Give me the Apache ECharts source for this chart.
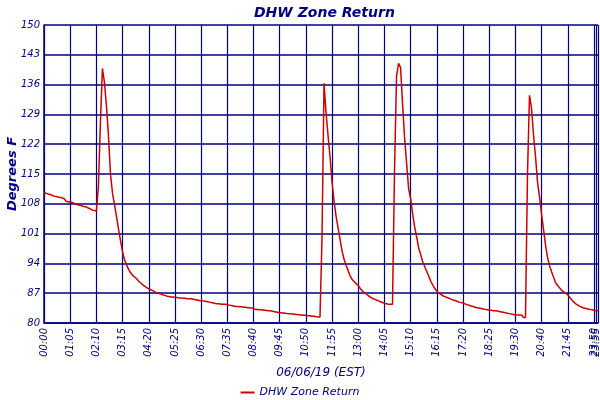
<!DOCTYPE html>
<html>
<head>
<meta charset="utf-8">
<title>DHW Zone Return</title>
<script src="https://cdn.jsdelivr.net/npm/echarts@6/dist/echarts.min.js"></script>
<style>
html,body{margin:0;padding:0;background:#fff;}
#chart1{width:600px;height:400px;}
</style>
</head>
<body>
<div id="chart1"></div>
<script>
// sample times (categories), the logger skips a few slots
var timeSegments = [
    ['00:00', '19:55'],
    ['20:05', '22:45'],
    ['23:50', '23:55']
];
var lastTime = '23:59';

// tick labels shown under the axis
var tickLabels = ['00:00','01:05','02:10','03:15','04:20','05:25','06:30','07:35','08:40','09:45','10:50',
    '11:55','13:00','14:05','15:10','16:15','17:20','18:25','19:30','20:40','21:45','23:50','23:55','23:59'];

// Degrees F
var temps = [
    110.6,110.5,110.3,110.2,110.0,109.8,109.7,109.6,109.5,109.4,109.2,108.6,108.5,
    108.4,108.3,108.1,107.9,107.7,107.6,107.5,107.3,107.3,107.0,106.8,106.5,106.4,
    106.3,112,127,139.8,136.5,131,124,115,110.5,107.8,105,102,99.3,
    96.7,94.8,93.6,92.6,91.8,91.2,90.8,90.4,89.8,89.4,89.0,88.6,88.3,
    88.0,87.8,87.6,87.3,87.1,87.0,86.8,86.6,86.5,86.3,86.2,86.1,86.1,
    86.0,86.0,85.9,85.9,85.8,85.8,85.7,85.7,85.7,85.6,85.5,85.4,85.3,
    85.2,85.2,85.1,85.0,84.9,84.8,84.7,84.6,84.5,84.5,84.4,84.4,84.4,
    84.3,84.2,84.1,84.0,83.9,83.9,83.8,83.8,83.7,83.7,83.6,83.6,83.5,
    83.4,83.2,83.2,83.1,83.1,83.0,83.0,82.9,82.9,82.8,82.7,82.6,82.5,
    82.4,82.4,82.3,82.3,82.2,82.2,82.1,82.1,82.0,82.0,81.9,81.9,81.8,
    81.8,81.7,81.7,81.6,81.6,81.5,81.4,81.4,100,136.3,129.5,124,119,
    113,108.6,105,102.3,99.5,96.8,94.9,93.5,92.3,91,90.2,89.7,89.2,
    88.8,88.1,87.5,87.1,86.8,86.4,86.1,85.8,85.6,85.4,85.2,85.0,84.8,
    84.6,84.5,84.4,84.4,84.4,116,138,141,140,131.3,123.5,117.5,111.5,
    109.2,105.6,102.5,100.2,97.6,96,94.4,93.2,92.1,91,89.8,88.9,88.1,
    87.5,87.0,86.7,86.4,86.2,86.0,85.8,85.6,85.4,85.3,85.1,84.9,84.8,
    84.7,84.5,84.3,84.2,84.0,83.9,83.7,83.6,83.5,83.4,83.3,83.2,83.1,
    83.0,83.0,82.9,82.9,82.8,82.7,82.6,82.5,82.4,82.3,82.2,82.1,82.0,
    81.9,81.9,81.9,81.9,81.3,81.3,115,133.5,130.5,124.1,119,113,109.5,
    105.5,101.8,98.2,95.3,93.4,92.0,90.7,89.4,88.8,88.2,87.7,87.3,87.0,
    86.6,86.0,85.4,84.9,84.5,84.2,83.9,83.7,83.5,83.4,83.3,83.2,83.1,
    83.0,82.9,82.8
];

function toMin(s) {
    var p = s.split(':');
    return parseInt(p[0]) * 60 + parseInt(p[1]);
}
function fnW(n) {
    return n >= 10 ? '' + n : '0' + n;
}
// build the category list, 5 minute steps inside each segment
var times = [];
for (var s = 0; s < timeSegments.length; s++) {
    for (var m = toMin(timeSegments[s][0]); m <= toMin(timeSegments[s][1]); m += 5) {
        times.push(fnW(Math.floor(m / 60)) + ':' + fnW(m % 60));
    }
}
times.push(lastTime);

function isTick(idx) {
    return tickLabels.indexOf(times[idx]) >= 0;
}

var navy = '#000080';
var font = '"DejaVu Sans", Verdana, sans-serif';

var myChart1 = echarts.init(document.getElementById('chart1'));
var option = {
    animation: false,
    backgroundColor: '#ffffff',
    title: {
        text: 'DHW Zone Return',
        left: 249,
        top: 1,
        textStyle: {color: navy, fontFamily: font, fontSize: 14, fontWeight: 'bold', fontStyle: 'italic'}
    },
    legend: {
        top: 382,
        left: 'center',
        icon: 'rect',
        itemWidth: 14,
        itemHeight: 2,
        itemGap: 4,
        textStyle: {color: navy, fontFamily: font, fontSize: 11, fontStyle: 'italic'},
        data: ['DHW Zone Return']
    },
    grid: {left: 44, right: 2, top: 25, bottom: 77, outerBoundsMode: 'none'},
    xAxis: {
        type: 'category',
        boundaryGap: false,
        data: times,
        name: '06/06/19 (EST)',
        nameLocation: 'middle',
        nameGap: 44,
        nameMoveOverlap: false,
        nameTextStyle: {color: navy, fontFamily: font, fontSize: 12, fontStyle: 'italic'},
        axisLine: {lineStyle: {color: navy, width: 1.5}},
        axisTick: {show: false},
        axisLabel: {
            interval: function (idx) { return isTick(idx); },
            rotate: 90,
            margin: 5,
            color: navy,
            fontFamily: font,
            fontSize: 10,
            fontStyle: 'italic'
        },
        splitLine: {
            show: true,
            interval: function (idx) { return isTick(idx); },
            lineStyle: {color: navy, width: 1.2}
        }
    },
    yAxis: {
        type: 'value',
        min: 80,
        max: 150,
        interval: 7,
        name: 'Degrees F',
        nameLocation: 'middle',
        nameGap: 25,
        nameMoveOverlap: false,
        nameTextStyle: {color: navy, fontFamily: font, fontSize: 13, fontWeight: 'bold', fontStyle: 'italic'},
        axisLine: {show: true, lineStyle: {color: navy, width: 1.5}},
        axisTick: {show: false},
        axisLabel: {
            margin: 4,
            color: navy,
            fontFamily: font,
            fontSize: 10,
            fontStyle: 'italic'
        },
        splitLine: {show: true, lineStyle: {color: navy, width: 1.5}}
    },
    series: [{
        name: 'DHW Zone Return',
        type: 'line',
        showSymbol: false,
        itemStyle: {color: '#cc0000'},
        lineStyle: {color: '#cc0000', width: 1.5},
        data: temps
    }]
};
myChart1.setOption(option);
</script>
</body>
</html>
